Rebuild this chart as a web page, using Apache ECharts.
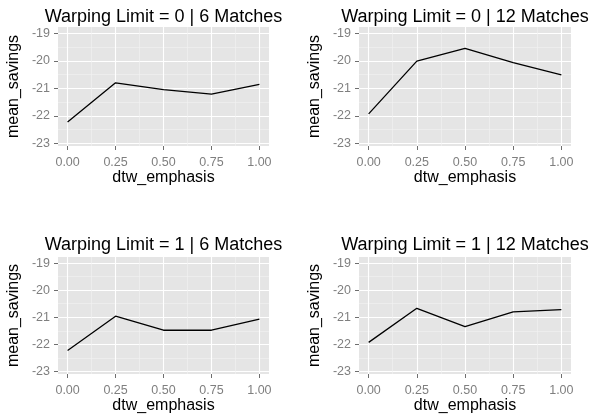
<!DOCTYPE html>
<html>
<head>
<meta charset="utf-8">
<script src="https://cdn.jsdelivr.net/npm/echarts@6/dist/echarts.min.js"></script>
<style>html,body{margin:0;padding:0;background:#fff;overflow:hidden}#c{width:603px;height:419px}</style>
</head>
<body>
<div id="c"></div>
<script>
// ---- data ----
const xVals = [0, 0.25, 0.5, 0.75, 1];
const wl0m6  = [-22.23, -20.80, -21.05, -21.21, -20.86];
const wl0m12 = [-21.93, -20.01, -19.55, -20.07, -20.51];
const wl1m6  = [-22.23, -20.96, -21.48, -21.48, -21.07];
const wl1m12 = [-21.93, -20.67, -21.35, -20.80, -20.72];
const panelTitles = [
  'Warping Limit = 0 | 6 Matches',
  'Warping Limit = 0 | 12 Matches',
  'Warping Limit = 1 | 6 Matches',
  'Warping Limit = 1 | 12 Matches'
];
const xMajor = [0, 0.25, 0.5, 0.75, 1];
const xMinor = [0.125, 0.375, 0.625, 0.875];
const yMajor = [-23, -22, -21, -20, -19];
const yMinor = [-22.5, -21.5, -20.5, -19.5];
const xTitle = 'dtw_emphasis';
const yTitle = 'mean_savings';
const seriesData = [wl0m6, wl0m12, wl1m6, wl1m12];

// ---- layout ----
const FONT = '"Liberation Sans", Arial, sans-serif';
const grids = [
  {left: 58,  top: 27,  width: 211, height: 119},
  {left: 359, top: 27,  width: 212, height: 119},
  {left: 58,  top: 257, width: 211, height: 117},
  {left: 359, top: 257, width: 212, height: 117}
];
const xNameGaps = [22.5, 22.5, 24, 24];
const titleY = [17.5, 17.5, 245, 245];

const xAxis = [], yAxis = [], series = [], graphic = [];
grids.forEach((g, i) => {
  g.show = true; g.backgroundColor = '#E5E5E5'; g.borderWidth = 0; g.containLabel = false;
  xAxis.push({
    type: 'value', gridIndex: i, min: -0.05, max: 1.05, position: 'bottom',
    name: xTitle, nameLocation: 'middle', nameGap: xNameGaps[i],
    nameTextStyle: {color: '#000', fontSize: 16, fontFamily: FONT},
    axisLine: {show: false, onZero: false},
    axisTick: {show: true, length: 4, lineStyle: {color: '#6e6e6e', width: 1}, customValues: xMajor},
    axisLabel: {color: '#7F7F7F', fontSize: 12.5, fontFamily: FONT, margin: 10, customValues: xMajor,
      formatter: v => v.toFixed(2)},
    splitLine: {show: true, lineStyle: {color: '#FFFFFF', width: 1.1}}
  });
  xAxis.push({
    type: 'value', gridIndex: i, min: -0.05, max: 1.05, position: 'top',
    axisLine: {show: false, onZero: false}, axisLabel: {show: false},
    axisTick: {show: false, customValues: xMinor},
    splitLine: {show: true, lineStyle: {color: '#F2F2F2', width: 0.6}}
  });
  yAxis.push({
    type: 'value', gridIndex: i, min: -23.1, max: -18.77, position: 'left',
    name: yTitle, nameLocation: 'middle', nameRotate: 90, nameGap: 36,
    nameTextStyle: {color: '#000', fontSize: 16, fontFamily: FONT},
    axisLine: {show: false, onZero: false},
    axisTick: {show: true, length: 4, lineStyle: {color: '#6e6e6e', width: 1}, customValues: yMajor},
    axisLabel: {color: '#7F7F7F', fontSize: 12.5, fontFamily: FONT, margin: 8, customValues: yMajor},
    splitLine: {show: true, lineStyle: {color: '#FFFFFF', width: 1.1}}
  });
  yAxis.push({
    type: 'value', gridIndex: i, min: -23.1, max: -18.77, position: 'right',
    axisLine: {show: false, onZero: false}, axisLabel: {show: false},
    axisTick: {show: false, customValues: yMinor},
    splitLine: {show: true, lineStyle: {color: '#F2F2F2', width: 0.6}}
  });
  series.push({
    type: 'line', xAxisIndex: 2 * i, yAxisIndex: 2 * i,
    data: xVals.map((x, k) => [x, seriesData[i][k]]),
    symbol: 'none', lineStyle: {color: '#000', width: 1.3}, z: 5, silent: true
  });
  graphic.push({
    type: 'text', x: g.left + g.width / 2, y: titleY[i],
    style: {text: panelTitles[i], font: '18px ' + FONT, fill: '#000',
      align: 'center', verticalAlign: 'middle', textAlign: 'center', textVerticalAlign: 'middle'}
  });
});

const chart = echarts.init(document.getElementById('c'), null, {renderer: 'canvas'});
chart.setOption({
  animation: false,
  backgroundColor: '#FFFFFF',
  grid: grids, xAxis, yAxis, series, graphic
});
</script>
</body>
</html>
